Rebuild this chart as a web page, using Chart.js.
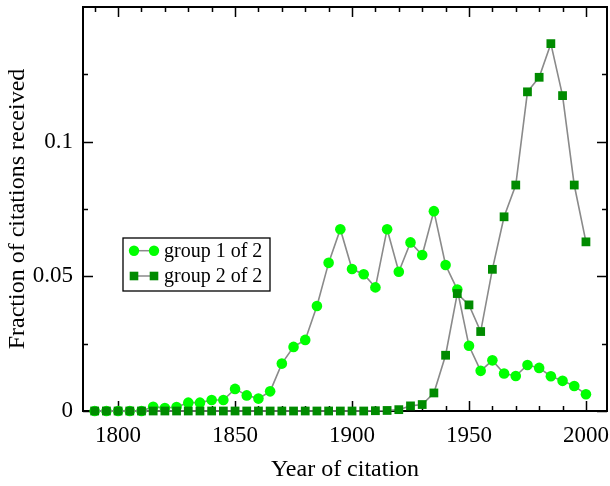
<!DOCTYPE html>
<html>
<head>
<meta charset="utf-8">
<script src="https://cdn.jsdelivr.net/npm/chart.js@4.4.0/dist/chart.umd.min.js"></script>
<style>
html, body { margin: 0; padding: 0; background: #fff; }
</style>
</head>
<body>
<canvas id="chart" width="610" height="486"></canvas>
<script>
// Data
const years = [1790, 1795, 1800, 1805, 1810, 1815, 1820, 1825, 1830, 1835, 1840, 1845, 1850, 1855, 1860, 1865,
    1870, 1875, 1880, 1885, 1890, 1895, 1900, 1905, 1910, 1915, 1920, 1925, 1930, 1935, 1940, 1945,
    1950, 1955, 1960, 1965, 1970, 1975, 1980, 1985, 1990, 1995, 2000];
const group1 = [0, 0, 0, 0, 0, 0.0016, 0.0011, 0.0015, 0.0031, 0.0031, 0.0041, 0.0041, 0.0082, 0.0058, 0.0046, 0.0073,
    0.0176, 0.0238, 0.0264, 0.039, 0.055, 0.0675, 0.0527, 0.0508, 0.0459, 0.0675, 0.0517, 0.0626, 0.0579, 0.0742, 0.0542, 0.0451,
    0.0242, 0.0149, 0.0188, 0.0139, 0.013, 0.0171, 0.016, 0.0129, 0.0112, 0.0093, 0.0062];
const group2 = [0, 0, 0, 0, 0, 0, 0, 0, 0, 0, 0, 0, 0, 0, 0, 0,
    0, 0, 0, 0, 0, 0, 0, 0, 0.0001, 0.0002, 0.0005, 0.0019, 0.0024, 0.0067, 0.0207, 0.0436,
    0.0394, 0.0295, 0.0526, 0.0721, 0.0839, 0.1185, 0.1239, 0.1364, 0.1171, 0.0839, 0.0628];
const seriesNames = ['group 1 of 2', 'group 2 of 2'];

const xTickValues = [1800, 1850, 1900, 1950, 2000];
const xMinorTicks = [1790, 1810, 1820, 1830, 1840, 1860, 1870, 1880, 1890, 1910, 1920, 1930, 1940, 1960, 1970, 1980, 1990];
const yTickValues = [0, 0.05, 0.1];
const yTickLabels = ['0', '0.05', '0.1'];
const yMinorTicks = [0.025, 0.075, 0.125];

const LIGHT = '#00ff00';
const DARK = '#008b00';
const LINE = '#8a8a8a';
const FONT = "'Liberation Serif', 'Times New Roman', serif";

function toPoints(values) {
    return years.map((yr, i) => ({ x: yr, y: values[i] }));
}

// Frame and inward ticks on all four sides
const framePlugin = {
    id: 'frame',
    beforeDatasetsDraw(chart) {
        const { ctx, chartArea: a, scales: { x, y } } = chart;
        ctx.save();
        ctx.strokeStyle = '#000';
        ctx.lineWidth = 1.5;
        ctx.beginPath();
        xTickValues.concat(xMinorTicks).forEach(v => {
            const len = xTickValues.includes(v) ? 10 : 5;
            const px = Math.round(x.getPixelForValue(v)) + 0.5;
            ctx.moveTo(px, a.bottom); ctx.lineTo(px, a.bottom - len);
            ctx.moveTo(px, a.top); ctx.lineTo(px, a.top + len);
        });
        yTickValues.concat(yMinorTicks).forEach(v => {
            const len = yTickValues.includes(v) ? 10 : 5;
            const py = Math.round(y.getPixelForValue(v)) + 0.5;
            ctx.moveTo(a.left, py); ctx.lineTo(a.left + len, py);
            ctx.moveTo(a.right, py); ctx.lineTo(a.right - len, py);
        });
        ctx.stroke();
        ctx.lineWidth = 2;
        ctx.strokeRect(a.left, a.top, a.right - a.left, a.bottom - a.top);
        ctx.restore();
    }
};

// Boxed legend inside the plot
const legendPlugin = {
    id: 'boxLegend',
    afterDatasetsDraw(chart) {
        const ctx = chart.ctx;
        const bx = 123, by = 238, bw = 147, bh = 53;
        ctx.save();
        ctx.fillStyle = '#fff';
        ctx.fillRect(bx, by, bw, bh);
        ctx.strokeStyle = '#000';
        ctx.lineWidth = 1.3;
        ctx.strokeRect(bx, by, bw, bh);
        const rows = [250.7, 276];
        chart.data.datasets.forEach((ds, i) => {
            const cy = rows[i];
            ctx.strokeStyle = LINE;
            ctx.lineWidth = 1.5;
            ctx.beginPath();
            ctx.moveTo(134, cy); ctx.lineTo(154, cy);
            ctx.stroke();
            ctx.fillStyle = ds.pointBackgroundColor;
            [134, 154].forEach(cx => {
                if (ds.pointStyle === 'circle') {
                    ctx.beginPath();
                    ctx.arc(cx, cy, 5.2, 0, Math.PI * 2);
                    ctx.fill();
                } else {
                    ctx.fillRect(cx - 4.3, cy - 4.3, 8.6, 8.6);
                }
            });
            ctx.fillStyle = '#000';
            ctx.font = '20px ' + FONT;
            ctx.textBaseline = 'middle';
            ctx.textAlign = 'left';
            ctx.fillText(ds.label, 164, cy + 1);
        });
        ctx.restore();
    }
};

new Chart(document.getElementById('chart'), {
    type: 'line',
    data: {
        datasets: [
            {
                label: seriesNames[0],
                data: toPoints(group1),
                borderColor: LINE,
                borderWidth: 1.6,
                pointStyle: 'circle',
                pointRadius: 5.3,
                pointBorderWidth: 0,
                pointBackgroundColor: LIGHT,
                pointBorderColor: LIGHT,
                clip: false,
                order: 1
            },
            {
                label: seriesNames[1],
                data: toPoints(group2),
                borderColor: LINE,
                borderWidth: 1.6,
                pointStyle: 'rect',
                pointRadius: 6.2,
                pointBorderWidth: 0,
                pointBackgroundColor: DARK,
                pointBorderColor: DARK,
                clip: false,
                order: 0
            }
        ]
    },
    options: {
        responsive: false,
        animation: false,
        devicePixelRatio: 1,
        layout: { autoPadding: false, padding: { top: 7, right: 3, left: 0, bottom: 0 } },
        plugins: {
            legend: { display: false },
            tooltip: { enabled: false }
        },
        scales: {
            x: {
                type: 'linear',
                min: 1785,
                max: 2009,
                afterBuildTicks: s => { s.ticks = xTickValues.map(v => ({ value: v })); },
                afterFit: s => { s.height = 75; s.paddingLeft = 0; s.paddingRight = 0; },
                grid: { display: false, drawTicks: false },
                border: { display: false },
                ticks: {
                    color: '#000',
                    padding: 11,
                    maxRotation: 0,
                    font: { family: FONT, size: 23 },
                    callback: v => String(v)
                },
                title: {
                    display: true,
                    text: 'Year of citation',
                    color: '#000',
                    font: { family: FONT, size: 24 },
                    padding: { top: 0, bottom: 2 }
                }
            },
            y: {
                min: 0,
                max: 0.15,
                afterBuildTicks: s => { s.ticks = yTickValues.map(v => ({ value: v })); },
                afterFit: s => { s.width = 83; s.paddingTop = 0; s.paddingBottom = 0; },
                grid: { display: false, drawTicks: false },
                border: { display: false },
                ticks: {
                    color: '#000',
                    padding: 10,
                    font: { family: FONT, size: 23 },
                    callback: v => yTickLabels[yTickValues.indexOf(v)]
                },
                title: {
                    display: true,
                    text: 'Fraction of citations received',
                    color: '#000',
                    font: { family: FONT, size: 24 },
                    padding: { top: 3, bottom: 0 }
                }
            }
        }
    },
    plugins: [framePlugin, legendPlugin]
});
</script>
</body>
</html>
